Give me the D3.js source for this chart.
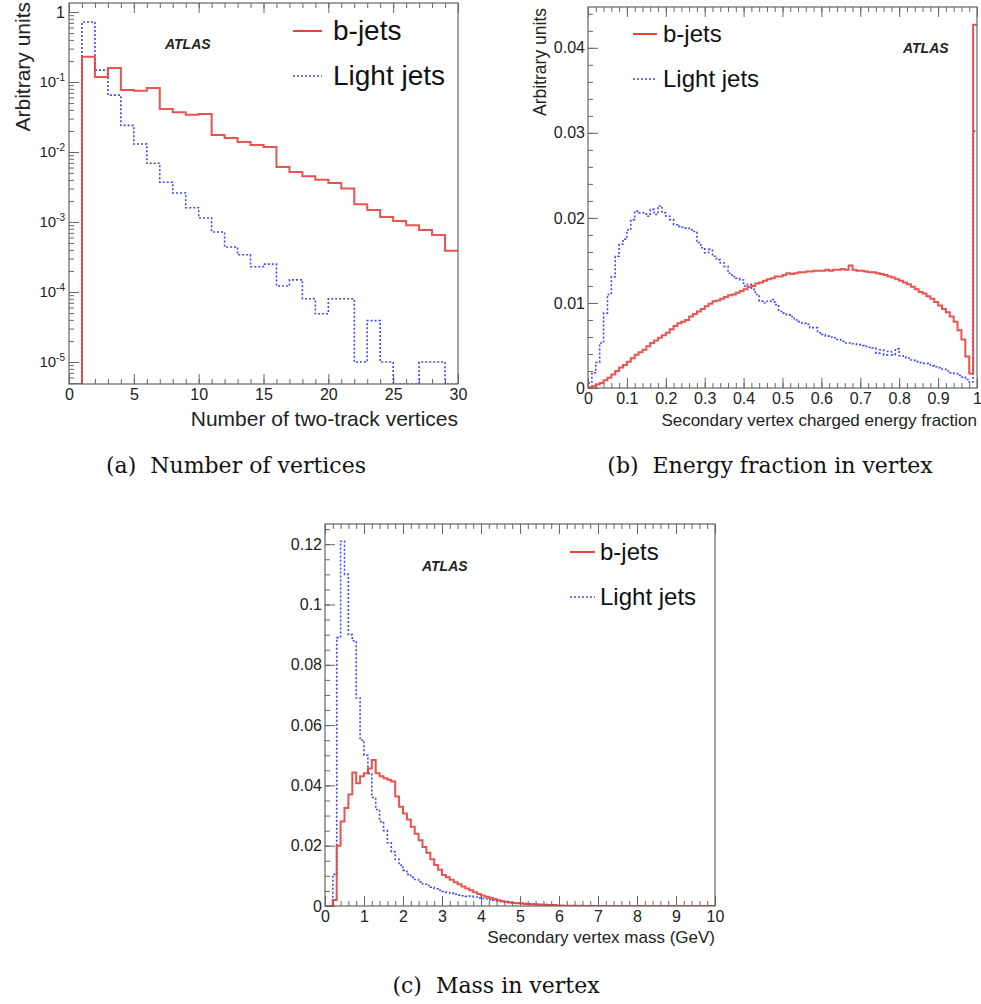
<!DOCTYPE html>
<html><head><meta charset="utf-8">
<script src="https://cdn.jsdelivr.net/npm/d3@7"></script>
<style>body{margin:0;background:#fff}svg{display:block}</style>
</head><body><svg id="c" width="981" height="1004"></svg>
<script>
// ---------- DATA ----------
// (a) number of two-track vertices, 30 bins of width 1 from 0 to 30
const nvtxRange = [0, 30];
const nvtxBjets = [0, 0.23, 0.118, 0.158, 0.077, 0.075, 0.082, 0.041, 0.037, 0.034,
  0.035, 0.0175, 0.0158, 0.0139, 0.0126, 0.0118, 0.0061, 0.0052, 0.0045, 0.0040,
  0.0036, 0.0030, 0.0018, 0.00148, 0.00118, 0.00103, 0.0009, 0.00077, 0.00065, 0.00039];
const nvtxLight = [0, 0.72, 0.148, 0.065, 0.024, 0.013, 0.0069, 0.0037, 0.0026, 0.0016,
  0.00114, 0.00072, 0.00044, 0.00034, 0.00023, 0.00025, 0.000122, 0.000149, 0.00008, 0.000049,
  0.00008, 0.00008, 0.00001, 0.000039, 0.00001, 0, 0, 0.00001, 0.00001, 0];
const nvtxXTicks = [0, 5, 10, 15, 20, 25, 30];
const nvtxYTicks = [1e-5, 1e-4, 1e-3, 1e-2, 1e-1, 1];

// (b) charged energy fraction, 100 bins of width 0.01 from 0 to 1
const efracRange = [0, 1];
const efracBjets = [0.0001,0.0002,0.0004,0.0006,0.0009,0.0012,0.0016,0.002,0.0024,0.0027,
  0.0031,0.0035,0.0039,0.0042,0.0045,0.0049,0.0053,0.0056,0.0059,0.0062,
  0.0065,0.0069,0.0073,0.0076,0.0078,0.008,0.0084,0.0087,0.009,0.0093,
  0.0096,0.0099,0.0102,0.0103,0.0105,0.0107,0.0109,0.011,0.0112,0.0114,
  0.0116,0.0119,0.012,0.0123,0.0124,0.0126,0.0128,0.0129,0.0131,0.0131,
  0.0133,0.0135,0.0134,0.0135,0.0136,0.0136,0.0137,0.0137,0.0138,0.0138,
  0.0138,0.0139,0.0138,0.0139,0.0139,0.014,0.0139,0.0144,0.0139,0.0138,
  0.0138,0.0137,0.0136,0.0136,0.0135,0.0134,0.0133,0.0131,0.013,0.0128,
  0.0126,0.0124,0.0122,0.0119,0.0116,0.0113,0.0111,0.0108,0.0105,0.0101,
  0.0097,0.0093,0.0089,0.0084,0.0078,0.0068,0.0057,0.0037,0.0017,0.0427];
const efracLight = [0.0006,0.0018,0.003,0.0053,0.0088,0.011,0.0131,0.0155,0.0169,0.0175,
  0.0186,0.0198,0.0208,0.0206,0.0206,0.0202,0.021,0.0204,0.0214,0.0206,
  0.0202,0.0198,0.0192,0.019,0.0189,0.0188,0.0186,0.0184,0.0171,0.0165,
  0.0159,0.0163,0.0155,0.0151,0.0147,0.0143,0.0135,0.0131,0.0129,0.0127,
  0.012,0.0122,0.0116,0.011,0.0102,0.01,0.0102,0.0104,0.0098,0.009,
  0.0088,0.0086,0.0084,0.008,0.0078,0.0076,0.0075,0.0071,0.0071,0.0065,
  0.0063,0.0061,0.006,0.0059,0.0057,0.0055,0.0053,0.0053,0.0052,0.0051,
  0.005,0.0049,0.0048,0.0047,0.0041,0.0045,0.0039,0.0043,0.0039,0.0046,
  0.0038,0.0036,0.0035,0.0033,0.0031,0.003,0.0029,0.0029,0.0026,0.0025,
  0.0024,0.0022,0.002,0.0018,0.0017,0.0015,0.0013,0.001,0.0007,0.0302];
const efracXTicks = [0, 0.1, 0.2, 0.3, 0.4, 0.5, 0.6, 0.7, 0.8, 0.9, 1];
const efracYTicks = [0, 0.01, 0.02, 0.03, 0.04];

// (c) secondary vertex mass, 100 bins of width 0.1 GeV from 0 to 10
const massRange = [0, 10];
const massBjets = [0, 0, 0.002, 0.020, 0.028, 0.0325, 0.037, 0.0443, 0.0407, 0.043,
  0.044, 0.0456, 0.0484, 0.044, 0.043, 0.0424, 0.0419, 0.0413, 0.0363, 0.0329,
  0.0307, 0.0287, 0.0263, 0.024, 0.0218, 0.0196, 0.0177, 0.0155, 0.0136, 0.012,
  0.0103, 0.0095, 0.0087, 0.0079, 0.0072, 0.0065, 0.0058, 0.0052, 0.0046, 0.0040,
  0.0035, 0.0031, 0.0027, 0.0023, 0.0019, 0.0016, 0.0014, 0.0012, 0.0010, 0.0009,
  0.0008, 0.0007, 0.0006, 0.0005, 0.0005, 0.0004, 0.0004, 0.0003, 0.0003, 0.0002,
  0.0002, 0.0001, 0.0001, 0.0001, 0.0001, 0.0001, 0, 0, 0, 0,
  0, 0, 0, 0, 0, 0, 0, 0, 0, 0,
  0, 0, 0, 0, 0, 0, 0, 0, 0, 0,
  0, 0, 0, 0, 0, 0, 0, 0, 0, 0];
const massLight = [0, 0, 0.0105, 0.089, 0.121, 0.110, 0.090, 0.088, 0.069, 0.055,
  0.050, 0.044, 0.036, 0.032, 0.028, 0.025, 0.021, 0.018, 0.0155, 0.0135,
  0.0118, 0.0105, 0.0095, 0.0088, 0.0080, 0.0073, 0.0068, 0.0062, 0.0057, 0.0052,
  0.0048, 0.0045, 0.0042, 0.0039, 0.0036, 0.0034, 0.0032, 0.0033, 0.0030, 0.0027,
  0.0025, 0.0023, 0.0021, 0.0019, 0.0017, 0.0015, 0.0013, 0.0012, 0.0011, 0.0010,
  0.0009, 0.0008, 0.0007, 0.0007, 0.0006, 0.0005, 0.0005, 0.0004, 0.0004, 0.0003,
  0, 0, 0, 0, 0, 0, 0, 0, 0, 0,
  0, 0, 0, 0, 0, 0, 0, 0, 0, 0,
  0, 0, 0, 0, 0, 0, 0, 0, 0, 0,
  0, 0, 0, 0, 0, 0, 0, 0, 0, 0];
const massXTicks = [0, 1, 2, 3, 4, 5, 6, 7, 8, 9, 10];
const massYTicks = [0, 0.02, 0.04, 0.06, 0.08, 0.1, 0.12];

const seriesNames = ["b-jets", "Light jets"];
const captions = ["(a)  Number of vertices", "(b)  Energy fraction in vertex", "(c)  Mass in vertex"];

// ---------- DRAWING ----------
const RED = "#e8403c", BLUE = "#4048f0", FRAME = "#666", TXT = "#222";
const SANS = "'Liberation Sans', Arial, Helvetica, sans-serif";
const svg = d3.select("#c");
svg.append("rect").attr("width", 981).attr("height", 1004).attr("fill", "#fff");
const defs = svg.append("defs");

function panel(p) {
  const g = svg.append("g");
  const x = d3.scaleLinear().domain(p.xRange).range([p.L, p.R]);
  const y = (p.log ? d3.scaleLog() : d3.scaleLinear()).domain(p.yDomain).range([p.B, p.T]).clamp(true);
  const floor = p.yDomain[0];

  const tickStyle = sel => { sel.select(".domain").remove(); sel.selectAll(".tick line").attr("stroke", FRAME); };
  g.append("g").attr("transform", `translate(0,${p.B})`)
    .call(d3.axisBottom(x).tickValues(p.xMinor).tickSize(-5).tickFormat(() => "")).call(tickStyle);
  const xa = g.append("g").attr("transform", `translate(0,${p.B})`)
    .call(d3.axisBottom(x).tickValues(p.xTicks).tickSize(-10).tickPadding(p.xPad).tickFormat(p.xFmt)).call(tickStyle);
  xa.selectAll("text").attr("font-family", SANS).attr("font-size", p.tickFont).attr("fill", TXT);
  g.append("g").attr("transform", `translate(0,${p.T})`)
    .call(d3.axisTop(x).tickValues(p.xMinor).tickSize(-5).tickFormat(() => "")).call(tickStyle);
  g.append("g").attr("transform", `translate(0,${p.T})`)
    .call(d3.axisTop(x).tickValues(p.xTicks).tickSize(-10).tickFormat(() => "")).call(tickStyle);
  g.append("g").attr("transform", `translate(${p.L},0)`)
    .call(d3.axisLeft(y).tickValues(p.yMinor).tickSize(-5).tickFormat(() => "")).call(tickStyle);
  const ya = g.append("g").attr("transform", `translate(${p.L},0)`)
    .call(d3.axisLeft(y).tickValues(p.yTicks).tickSize(-10).tickPadding(p.yPad).tickFormat(p.yFmt)).call(tickStyle);
  ya.selectAll("text").attr("font-family", SANS).attr("font-size", p.tickFont).attr("fill", TXT);
  if (p.log) {
    ya.selectAll("text").each(function (d) {
      const t = d3.select(this);
      const e = Math.round(Math.log10(d));
      if (e === 0) { t.text("1"); return; }
      t.text("").attr("font-size", 15);
      t.append("tspan").text("10");
      t.append("tspan").text(String(e)).attr("font-size", 10).attr("dy", "-0.6em");
    });
  }

  const cid = "clip" + p.id;
  defs.append("clipPath").attr("id", cid).append("rect")
    .attr("x", p.L).attr("y", p.T - 1).attr("width", p.R - p.L).attr("height", p.B - p.T + 1);

  const line = d3.line().x(d => x(d[0])).y(d => y(Math.max(d[1], floor)));
  function steps(vals) {
    const w = (p.xRange[1] - p.xRange[0]) / vals.length;
    const pts = [];
    vals.forEach((v, i) => { pts.push([p.xRange[0] + i * w, v]); pts.push([p.xRange[0] + (i + 1) * w, v]); });
    return pts;
  }
  const hg = g.append("g").attr("clip-path", `url(#${cid})`);
  hg.append("path").attr("d", line(steps(p.light))).attr("fill", "none")
    .attr("stroke", BLUE).attr("stroke-width", 1.6).attr("stroke-dasharray", "2,2");
  hg.append("path").attr("d", line(steps(p.bjets))).attr("fill", "none")
    .attr("stroke", RED).attr("stroke-width", 2).attr("stroke-opacity", 0.9);

  g.append("rect").attr("x", p.L).attr("y", p.T).attr("width", p.R - p.L).attr("height", p.B - p.T)
    .attr("fill", "none").attr("stroke", FRAME).attr("stroke-width", 1.2);

  g.append("text").attr("x", p.R).attr("y", p.xTitleY).attr("text-anchor", "end")
    .attr("font-family", SANS).attr("font-size", p.xTitleFont).attr("fill", TXT).text(p.xTitle);
  if (p.yTitle) {
    g.append("text").attr("transform", `translate(${p.yTitleX},${p.yTitleTop}) rotate(-90)`)
      .attr("text-anchor", "end").attr("font-family", SANS).attr("font-size", p.yTitleFont)
      .attr("fill", TXT).text(p.yTitle);
  }
  g.append("text").attr("x", p.atlas[0]).attr("y", p.atlas[1]).attr("font-family", SANS)
    .attr("font-weight", "bold").attr("font-style", "italic").attr("font-size", 14).attr("fill", TXT).text("ATLAS");
  const lg = p.legend;
  [[RED, 2, null], [BLUE, 1.6, "2,2"]].forEach((s, i) => {
    const ly = lg.ly[i];
    g.append("line").attr("x1", lg.x1).attr("x2", lg.x2).attr("y1", ly).attr("y2", ly)
      .attr("stroke", s[0]).attr("stroke-width", s[1]).attr("stroke-dasharray", s[2]);
    g.append("text").attr("x", lg.tx).attr("y", lg.ty[i]).attr("font-family", SANS)
      .attr("font-size", lg.font).attr("fill", "#111").text(seriesNames[i]);
  });
}

function logMinor(lo, hi) {
  const out = [];
  for (let k = -6; k <= 0; k++) for (let m = 2; m <= 9; m++) {
    const v = m * Math.pow(10, k); if (v > lo && v < hi) out.push(v);
  }
  return out;
}
const range = (a, b, s) => d3.range(a, b + s / 2, s);

panel({
  id: "a", L: 69, R: 458, T: 3, B: 384, xRange: nvtxRange, log: true, yDomain: [4.85e-6, 1.345],
  xTicks: nvtxXTicks, xMinor: range(0, 30, 1), xFmt: d3.format("d"), xPad: 5,
  yTicks: nvtxYTicks, yMinor: logMinor(4.85e-6, 1.345), yFmt: d => d, yPad: 4, tickFont: 16,
  bjets: nvtxBjets, light: nvtxLight,
  xTitle: "Number of two-track vertices", xTitleY: 426, xTitleFont: 21,
  yTitle: "Arbitrary units", yTitleX: 30, yTitleTop: 2, yTitleFont: 21,
  atlas: [165, 49],
  legend: { x1: 293, x2: 322, tx: 333, ly: [31, 76], ty: [40, 85], font: 28 }
});

panel({
  id: "b", L: 588, R: 977, T: 7, B: 388, xRange: efracRange, log: false, yDomain: [0, 0.0448],
  xTicks: efracXTicks, xMinor: range(0, 1, 0.02), xFmt: d => d3.format("~g")(d), xPad: 5,
  yTicks: efracYTicks, yMinor: range(0, 0.044, 0.002), yFmt: d => d3.format("~g")(d), yPad: 3, tickFont: 16,
  bjets: efracBjets, light: efracLight,
  xTitle: "Secondary vertex charged energy fraction", xTitleY: 426, xTitleFont: 17,
  yTitle: "Arbitrary units", yTitleX: 546, yTitleTop: 8, yTitleFont: 17.5,
  atlas: [903, 53],
  legend: { x1: 633, x2: 657, tx: 663, ly: [34, 79], ty: [42, 87], font: 24 }
});

panel({
  id: "c", L: 325, R: 715, T: 524, B: 906, xRange: massRange, log: false, yDomain: [0, 0.1267],
  xTicks: massXTicks, xMinor: range(0, 10, 0.2), xFmt: d3.format("d"), xPad: 5,
  yTicks: massYTicks, yMinor: range(0, 0.125, 0.005), yFmt: d => d3.format("~g")(d), yPad: 3, tickFont: 16,
  bjets: massBjets, light: massLight,
  xTitle: "Secondary vertex mass (GeV)", xTitleY: 943, xTitleFont: 17,
  yTitle: null,
  atlas: [422, 571],
  legend: { x1: 570, x2: 595, tx: 600, ly: [552, 597], ty: [560, 605], font: 24 }
});

const capPos = [[236, 473], [770, 473], [496, 993]];
captions.forEach((c, i) => {
  svg.append("text").attr("x", capPos[i][0]).attr("y", capPos[i][1]).attr("text-anchor", "middle")
    .attr("font-family", "'DejaVu Serif', 'Liberation Serif', serif").attr("font-size", 22)
    .attr("fill", "#111").style("white-space", "pre").text(c);
});
</script></body></html>
